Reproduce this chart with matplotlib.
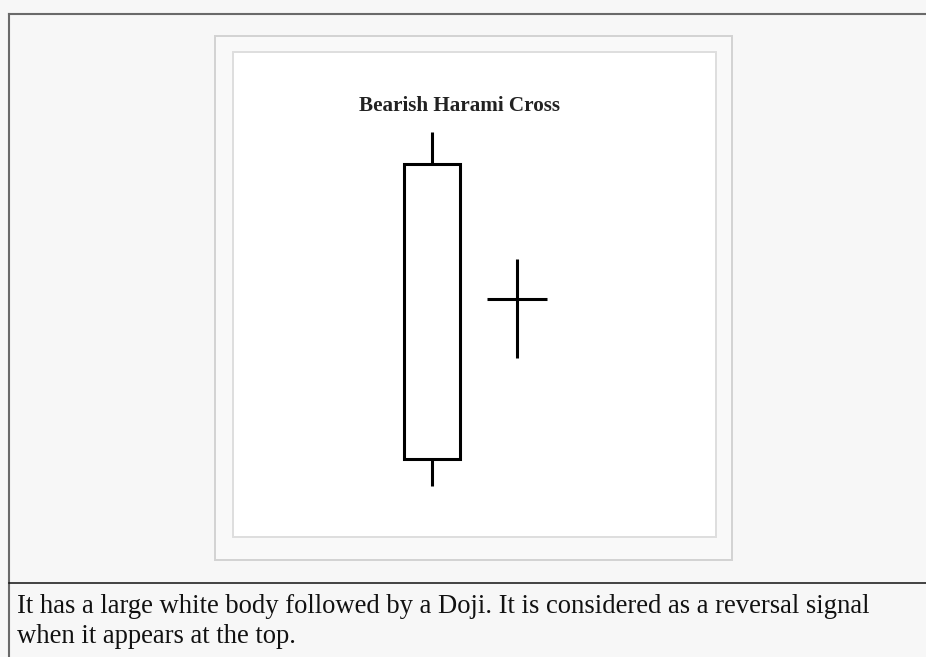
import matplotlib
matplotlib.use("Agg")
import matplotlib.pyplot as plt
from matplotlib.patches import Rectangle
from matplotlib.lines import Line2D

# candle data (price units)
labels = ["White candle", "Doji"]
xpos = [1, 2]
opens = [16.0, 49.0]
closes = [77.0, 49.0]
highs = [83.5, 57.3]
lows = [10.5, 37.0]

TITLE = "Bearish Harami Cross"
CAPTION = ["It has a large white body followed by a Doji. It is considered as a reversal signal",
           "when it appears at the top."]

W, H = 926, 657
BG = "#f7f7f7"
SERIF = ["Liberation Serif", "DejaVu Serif"]

fig = plt.figure(figsize=(W / 100, H / 100), dpi=100, facecolor=BG)

# background layer in pixel coords
bg = fig.add_axes([0, 0, 1, 1])
bg.set_xlim(0, W); bg.set_ylim(H, 0); bg.axis("off")
bg.add_line(Line2D([8.5, W], [13.5, 13.5], color="#6a6a6a", lw=1.5))
bg.add_line(Line2D([8.5, 8.5], [13.5, H], color="#6a6a6a", lw=1.5))
bg.add_line(Line2D([9, W], [583, 583], color="#111111", lw=1.1))
bg.add_patch(Rectangle((215, 36), 517, 524, facecolor="#f9f9f9", edgecolor="#d2d2d2", lw=1.4))
bg.add_patch(Rectangle((233, 52), 483, 485, facecolor="white", edgecolor="#dedede", lw=1.4))
for i, line in enumerate(CAPTION):
    bg.text(17, 613 + 30 * i, line, fontsize=19.2, family=SERIF, color="#111111", va="baseline")

# chart area (inner white frame)
ax = fig.add_axes([233 / W, 1 - 537 / H, 483 / W, 485 / H])
ax.set_xlim(-1.341, 4.341)
ax.set_ylim(0, 100)
ax.axis("off")

lw = 2.2
body_w = 0.67
doji_w = 0.7
for x, o, c, hi, lo in zip(xpos, opens, closes, highs, lows):
    top, bot = max(o, c), min(o, c)
    if top - bot > 0.5:
        ax.add_patch(Rectangle((x - body_w / 2, bot), body_w, top - bot,
                               facecolor="white", edgecolor="black", lw=lw))
        ax.plot([x, x], [top, hi], color="black", lw=lw, solid_capstyle="butt")
        ax.plot([x, x], [lo, bot], color="black", lw=lw, solid_capstyle="butt")
    else:
        ax.plot([x, x], [lo, hi], color="black", lw=lw, solid_capstyle="butt")
        ax.plot([x - doji_w / 2, x + doji_w / 2], [o, o], color="black", lw=lw,
                solid_capstyle="butt")

ax.text(0.469, 0.889, TITLE, transform=ax.transAxes, ha="center", va="center",
        fontsize=15.2, family=SERIF, fontweight="bold", color="#222222")

fig.savefig("out.png", dpi=100, facecolor=BG)
